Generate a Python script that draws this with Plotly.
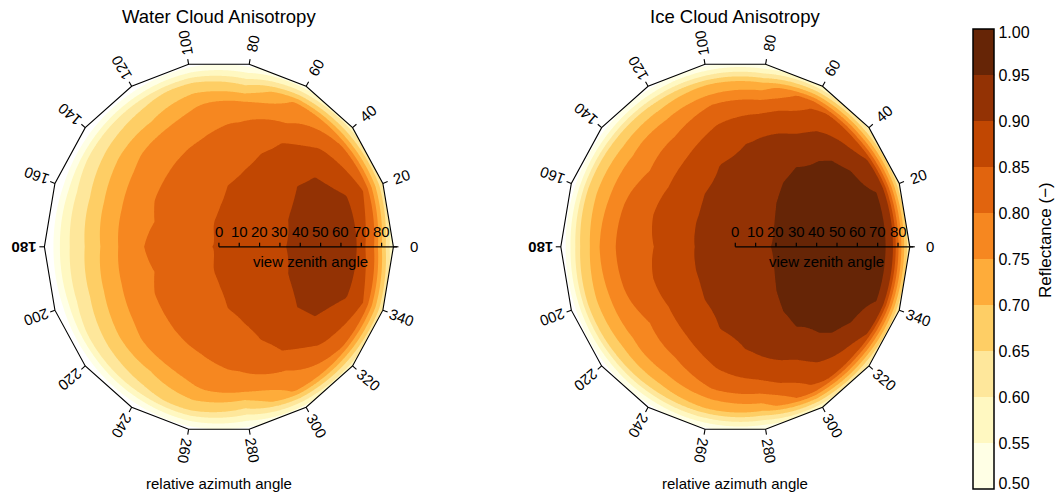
import numpy as np
import plotly.graph_objects as go

# ---------------- data ----------------
# Reflectance on a polar grid: rows = relative azimuth 0..180 (mirrored for 200..340),
# columns = view zenith angle 0..90
ZENITH = [0, 10, 20, 30, 40, 50, 60, 70, 80, 90]
AZIMUTH = [0, 20, 40, 60, 80, 100, 120, 140, 160, 180]

WATER_REFLECTANCE = [
    [0.855, 0.865, 0.878, 0.893, 0.908, 0.922, 0.928, 0.912, 0.800, 0.55],   # az 0
    [0.855, 0.862, 0.874, 0.888, 0.903, 0.916, 0.920, 0.902, 0.845, 0.60],   # az 20
    [0.855, 0.860, 0.868, 0.877, 0.887, 0.896, 0.892, 0.860, 0.795, 0.57],   # az 40
    [0.855, 0.858, 0.862, 0.862, 0.860, 0.857, 0.843, 0.797, 0.760, 0.52],   # az 60
    [0.855, 0.855, 0.853, 0.851, 0.840, 0.825, 0.805, 0.770, 0.645, 0.48],   # az 80
    [0.855, 0.852, 0.845, 0.835, 0.822, 0.806, 0.785, 0.745, 0.665, 0.47],   # az 100
    [0.855, 0.845, 0.835, 0.824, 0.813, 0.792, 0.765, 0.700, 0.635, 0.45],   # az 120
    [0.855, 0.840, 0.828, 0.815, 0.803, 0.775, 0.740, 0.685, 0.610, 0.44],   # az 140
    [0.855, 0.838, 0.823, 0.808, 0.793, 0.765, 0.720, 0.655, 0.585, 0.43],   # az 160
    [0.855, 0.840, 0.825, 0.812, 0.798, 0.760, 0.707, 0.645, 0.580, 0.43],   # az 180
]

ICE_REFLECTANCE = [
    [0.930, 0.940, 0.952, 0.962, 0.970, 0.975, 0.975, 0.965, 0.945, 0.60],   # az 0
    [0.930, 0.938, 0.949, 0.960, 0.967, 0.972, 0.972, 0.964, 0.945, 0.60],   # az 20
    [0.930, 0.936, 0.945, 0.952, 0.957, 0.962, 0.960, 0.940, 0.870, 0.58],   # az 40
    [0.930, 0.934, 0.940, 0.944, 0.945, 0.940, 0.910, 0.880, 0.840, 0.55],   # az 60
    [0.930, 0.928, 0.925, 0.920, 0.912, 0.905, 0.880, 0.825, 0.720, 0.50],   # az 80
    [0.930, 0.925, 0.918, 0.910, 0.902, 0.880, 0.848, 0.800, 0.700, 0.48],   # az 100
    [0.930, 0.922, 0.912, 0.901, 0.880, 0.850, 0.810, 0.760, 0.675, 0.47],   # az 120
    [0.930, 0.920, 0.908, 0.890, 0.870, 0.830, 0.790, 0.745, 0.665, 0.46],   # az 140
    [0.930, 0.918, 0.904, 0.885, 0.865, 0.835, 0.805, 0.745, 0.670, 0.45],   # az 160
    [0.930, 0.918, 0.902, 0.880, 0.855, 0.830, 0.810, 0.750, 0.650, 0.45],   # az 180
]

LEVELS = [0.50, 0.55, 0.60, 0.65, 0.70, 0.75, 0.80, 0.85, 0.90, 0.95, 1.00]
LEVEL_LABELS = ["0.50", "0.55", "0.60", "0.65", "0.70", "0.75", "0.80", "0.85", "0.90", "0.95", "1.00"]
BAND_COLORS = ["#FFFFE5", "#FFF8C1", "#FEE79B", "#FECE65", "#FEAC3A",
               "#F68720", "#E1640E", "#C14702", "#933204", "#662506"]
BELOW_COLOR = "#FFFFFF"
AZ_TICKS = list(range(0, 360, 20))
ZEN_TICKS = [0, 10, 20, 30, 40, 50, 60, 70, 80]
TITLES = ["Water Cloud Anisotropy", "Ice Cloud Anisotropy"]

# ---------------- layout geometry (pixels) ----------------
W, H = 1061, 496
SX = 174.5 / 90.0          # px per unit (x)
SY = 185.3 / 90.0          # px per unit (y)
CY = 246.8                 # center y from top
PANELS = [dict(cx=218.9, d0=0, d1=480), dict(cx=735.3, d0=490, d1=960)]
ZEN_AXIS_SCALE = 2.034 / SX  # zenith axis units per degree
FONT = "Liberation Sans, Arial, sans-serif"


def polar_field(table):
    T = np.array(table, dtype=float)
    full = np.vstack([T, T[-2::-1]])  # az 0..360
    step = 0.5
    xs = np.round(np.arange(-92, 92 + 1e-9, step), 2)
    ys = xs.copy()
    X, Y = np.meshgrid(xs, ys)
    R = np.minimum(np.hypot(X, Y), 90.0)
    A = np.degrees(np.arctan2(Y, X)) % 360
    ia = np.clip((A // 20).astype(int), 0, 17)
    fa = (A - ia * 20) / 20
    iz = np.clip((R // 10).astype(int), 0, 8)
    fz = np.clip((R - iz * 10) / 10, 0, 1)
    v00 = full[ia, iz]; v01 = full[ia, iz + 1]
    v10 = full[ia + 1, iz]; v11 = full[ia + 1, iz + 1]
    Z = (1 - fa) * ((1 - fz) * v00 + fz * v01) + fa * ((1 - fz) * v10 + fz * v11)
    return xs, ys, np.round(Z, 4)


# contour fill colours: band below first level + 10 bands
contour_cs = [[i / 10, c] for i, c in enumerate([BELOW_COLOR] + BAND_COLORS)]
# stepped colourscale for the colour bar
bar_cs = []
n = len(BAND_COLORS)
for i, c in enumerate(BAND_COLORS):
    bar_cs.append([i / n, c])
    bar_cs.append([(i + 1) / n, c])

fig = go.Figure()
annotations = []
shapes = []

for p, (table, title) in enumerate(zip([WATER_REFLECTANCE, ICE_REFLECTANCE], TITLES)):
    xa = "x" if p == 0 else "x2"
    ya = "y" if p == 0 else "y2"
    xs, ys, Z = polar_field(table)
    fig.add_trace(go.Contour(
        x=xs, y=ys, z=Z, colorscale=contour_cs, autocontour=False,
        contours=dict(start=LEVELS[0], end=LEVELS[-2], size=0.05,
                      coloring="fill", showlines=False),
        line=dict(width=0, smoothing=0), showscale=False,
        xaxis=xa, yaxis=ya, hoverinfo="skip"))

    # white mask outside the 18-gon (keyhole path)
    th = np.radians(AZ_TICKS + [360])
    px_ = list(90 * np.cos(th)) + [97, 97, -97, -97, 97, 97, 90]
    py_ = list(90 * np.sin(th)) + [0, -97, -97, 97, 97, 0, 0]
    fig.add_trace(go.Scatter(x=px_, y=py_, mode="lines", fill="toself",
                             fillcolor="white", line=dict(width=0, color="white"),
                             xaxis=xa, yaxis=ya, hoverinfo="skip", showlegend=False))

    # polygon outline
    fig.add_trace(go.Scatter(x=90 * np.cos(th), y=90 * np.sin(th), mode="lines",
                             line=dict(color="black", width=1.1), xaxis=xa, yaxis=ya,
                             hoverinfo="skip", showlegend=False))
    # azimuth ticks
    tx, ty = [], []
    for a in AZ_TICKS:
        t = np.radians(a)
        tx += [90 * np.cos(t), 92.6 * np.cos(t), None]
        ty += [90 * np.sin(t), 92.6 * np.sin(t), None]
    fig.add_trace(go.Scatter(x=tx, y=ty, mode="lines", line=dict(color="black", width=1.1),
                             xaxis=xa, yaxis=ya, hoverinfo="skip", showlegend=False))
    # azimuth labels
    for a in AZ_TICKS:
        t = np.radians(a)
        txt = "<b>180</b>" if a == 180 else str(a)
        annotations.append(dict(x=100.4 * np.cos(t), y=100.4 * np.sin(t), xref=xa, yref=ya,
                                text=txt, showarrow=False, textangle=-a,
                                xanchor="center", yanchor="middle",
                                font=dict(family=FONT, size=15, color="black")))
    # zenith axis
    fig.add_trace(go.Scatter(x=[0, 91.8], y=[0, 0], mode="lines",
                             line=dict(color="black", width=1.2),
                             xaxis=xa, yaxis=ya, hoverinfo="skip", showlegend=False))
    kx, ky = [], []
    for v in ZEN_TICKS:
        kx += [v * ZEN_AXIS_SCALE, v * ZEN_AXIS_SCALE, None]
        ky += [0, 2.0, None]
        annotations.append(dict(x=v * ZEN_AXIS_SCALE, y=7.2, xref=xa, yref=ya, text=str(v),
                                showarrow=False, xanchor="center", yanchor="middle",
                                font=dict(family=FONT, size=15, color="black")))
    fig.add_trace(go.Scatter(x=kx, y=ky, mode="lines", line=dict(color="black", width=1.2),
                             xaxis=xa, yaxis=ya, hoverinfo="skip", showlegend=False))
    annotations.append(dict(x=45 * ZEN_AXIS_SCALE, y=-6.9, xref=xa, yref=ya,
                            text="view zenith angle", showarrow=False,
                            xanchor="center", yanchor="middle",
                            font=dict(family=FONT, size=15, color="black")))
    annotations.append(dict(x=0, y=(CY - 16) / SY, xref=xa, yref=ya, text=title,
                            showarrow=False, xanchor="center", yanchor="middle",
                            font=dict(family=FONT, size=18.5, color="black")))
    annotations.append(dict(x=0, y=(CY - 483) / SY, xref=xa, yref=ya,
                            text="relative azimuth angle", showarrow=False,
                            xanchor="center", yanchor="middle",
                            font=dict(family=FONT, size=15, color="black")))

# colour bar carrier (cells lie outside the visible axis range)
bar_tickvals = list(LEVELS)
bar_tickvals[0] = LEVELS[0] + 0.006    # end labels sit just inside the bar, as in the source
bar_tickvals[-1] = LEVELS[-1] - 0.004
fig.add_trace(go.Heatmap(
    x=[1000, 1001], y=[1000, 1001], z=[[LEVELS[0], LEVELS[-1]], [LEVELS[0], LEVELS[-1]]],
    colorscale=bar_cs, zmin=LEVELS[0], zmax=LEVELS[-1], hoverinfo="skip",
    xaxis="x", yaxis="y", showscale=True,
    colorbar=dict(
        x=973.3 / W, xanchor="left", xpad=0, ypad=0,
        y=(H - 259.0) / H, yanchor="middle",
        len=460, lenmode="pixels", thickness=21, thicknessmode="pixels",
        outlinewidth=1.5, outlinecolor="black",
        tickvals=bar_tickvals, ticktext=LEVEL_LABELS, ticks="",
        ticklabeloverflow="allow",
        tickfont=dict(family=FONT, size=16, color="black"),
    )))
# colour bar title
annotations.append(dict(x=1045.0 / W, y=(H - 240.0) / H, xref="paper", yref="paper",
                        text="Reflectance (\u2212)", showarrow=False, textangle=-90,
                        xanchor="center", yanchor="middle",
                        font=dict(family=FONT, size=17, color="black")))

# colour bar separators
bar_top = 259.0 - 230.0
for i in range(1, len(LEVELS) - 1):
    yy = bar_top + i * 46.0
    shapes.append(dict(type="line", xref="paper", yref="paper",
                       x0=973.3 / W, x1=994.3 / W, y0=(H - yy) / H, y1=(H - yy) / H,
                       line=dict(color="black", width=1)))

layout_axes = {}
for p, pan in enumerate(PANELS):
    suffix = "" if p == 0 else "2"
    layout_axes["xaxis" + suffix] = dict(
        domain=[pan["d0"] / W, pan["d1"] / W],
        range=[(pan["d0"] - pan["cx"]) / SX, (pan["d1"] - pan["cx"]) / SX],
        visible=False, fixedrange=True)
    layout_axes["yaxis" + suffix] = dict(
        domain=[0, 1], range=[-(H - CY) / SY, CY / SY],
        visible=False, fixedrange=True, anchor="x" + suffix)

fig.update_layout(width=W, height=H, margin=dict(l=0, r=0, t=0, b=0),
                  paper_bgcolor="white", plot_bgcolor="white",
                  showlegend=False, annotations=annotations, shapes=shapes,
                  font=dict(family=FONT), **layout_axes)

fig.write_html("out.html", config={"displayModeBar": False},
               post_script="document.body.style.margin='0px';document.body.style.overflow='hidden';")
